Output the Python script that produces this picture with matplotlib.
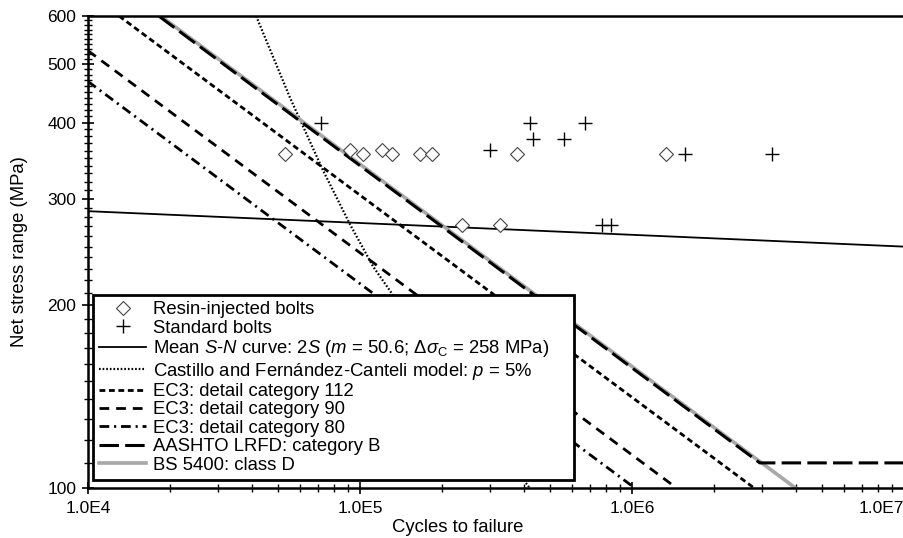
import matplotlib
matplotlib.use("Agg")
import matplotlib.pyplot as plt
from matplotlib.ticker import FixedLocator, MultipleLocator, NullFormatter, FixedFormatter

plt.rcParams['font.family'] = ['Liberation Sans', 'DejaVu Sans']
plt.rcParams['mathtext.fontset'] = 'custom'
plt.rcParams['mathtext.rm'] = 'Liberation Sans'
plt.rcParams['mathtext.it'] = 'Liberation Sans:italic'
plt.rcParams['lines.scale_dashes'] = False

# test results (cycles, net stress range in MPa)
resin_N = [53000, 91900, 102800, 120800, 131500, 166200, 184400, 236500, 327100, 376800, 1330000]
resin_S = [355, 361, 355, 361, 355, 355, 355, 271, 271, 355, 355]
std_N = [71900, 300600, 421700, 431500, 562300, 671900, 773500, 835000, 1566000, 3280000]
std_S = [400, 361, 400, 376, 376, 400, 271, 271, 355, 355]

# S-N curves
mean_N = [1e4, 1e7]
mean_S = [286, 250]
castillo_N = [41500, 55300, 73100, 91900, 111600, 132200, 420000]
castillo_S = [600, 440, 334, 272, 232, 208, 100]
ec3_112_N = [13000, 2810000]
ec3_112_S = [600, 100]
ec3_90_N = [1e4, 1458000]
ec3_90_S = [526, 100]
ec3_80_N = [1e4, 1024000]
ec3_80_S = [468, 100]
aashto_N = [18200, 2950000, 1e7]
aashto_S = [600, 110, 110]
bs_N = [18500, 3990000]
bs_S = [600, 100]

x_ticks = [1e4, 1e5, 1e6, 1e7]
x_labels = ['1.0E4', '1.0E5', '1.0E6', '1.0E7']
y_ticks = [100, 200, 300, 400, 500, 600]

fig = plt.figure(figsize=(9.04, 5.38), dpi=100)
ax = fig.add_axes([88/904, 50/538, 816/904, 472/538])
ax.set_xscale('log')
ax.set_yscale('log')

h_resin, = ax.plot(resin_N, resin_S, ls='none', marker='D', ms=7, mfc='white',
                   mec='#444444', mew=0.8, zorder=5)
h_std, = ax.plot(std_N, std_S, ls='none', marker='+', ms=9.5, mec='black', mew=1.0, zorder=5)
h_mean, = ax.plot(mean_N, mean_S, color='black', lw=1.3)
h_cas, = ax.plot(castillo_N, castillo_S, color='black', lw=1.6, dashes=(1.2, 1.4))
h_112, = ax.plot(ec3_112_N, ec3_112_S, color='black', lw=2.0, dashes=(4.2, 2.6))
h_90, = ax.plot(ec3_90_N, ec3_90_S, color='black', lw=2.0, dashes=(7, 5))
h_80, = ax.plot(ec3_80_N, ec3_80_S, color='black', lw=2.0, dashes=(7, 3.5, 1.5, 3.5))
h_bs, = ax.plot(bs_N, bs_S, color='#a8a8a8', lw=2.6, zorder=2)
h_aas, = ax.plot(aashto_N, aashto_S, color='black', lw=2.2, dashes=(14, 4.5), zorder=3)

ax.set_xlim(1e4, 1e7)
ax.set_ylim(100, 600)

ax.xaxis.set_major_locator(FixedLocator(x_ticks))
ax.xaxis.set_major_formatter(FixedFormatter(x_labels))
ax.yaxis.set_major_locator(FixedLocator(y_ticks))
ax.yaxis.set_major_formatter(FixedFormatter([str(v) for v in y_ticks]))
ax.yaxis.set_minor_locator(MultipleLocator(10))
ax.yaxis.set_minor_formatter(NullFormatter())
ax.tick_params(which='major', direction='inout', length=9, width=1.2, labelsize=12.5)
ax.tick_params(axis='x', which='major', pad=5)
ax.tick_params(axis='y', which='major', pad=4)
ax.tick_params(which='minor', direction='inout', length=6, width=1.0)

# last x label sits inside the figure edge, as in the original
fig.canvas.draw()
ax.get_xticklabels()[-1].set_horizontalalignment('right')

for side in ['left', 'bottom', 'top']:
    ax.spines[side].set_linewidth(1.8)
ax.spines['right'].set_visible(False)

ax.set_ylabel('Net stress range (MPa)', fontsize=13.3)
ax.yaxis.set_label_coords(-0.073, 0.5)
ax.set_xlabel('Cycles to failure', fontsize=13.3)
ax.xaxis.set_label_coords(0.453, -0.066)

handles = [h_resin, h_std, h_mean, h_cas, h_112, h_90, h_80, h_aas, h_bs]
labels = ['Resin-injected bolts',
          'Standard bolts',
          r'Mean $S$-$N$ curve: 2$S$ ($m$ = 50.6; $\Delta\sigma_\mathrm{C}$ = 258 MPa)',
          'Castillo and Fernández-Canteli model: $p$ = 5%',
          'EC3: detail category 112',
          'EC3: detail category 90',
          'EC3: detail category 80',
          'AASHTO LRFD: category B',
          'BS 5400: class D']
leg = ax.legend(handles, labels, loc='lower left', bbox_to_anchor=(0.006, 0.017, 0.59, 0.4),
                mode='expand', fontsize=13.3, handlelength=2.55, handletextpad=0.33,
                labelspacing=0.075, borderpad=0.35, borderaxespad=0, fancybox=False,
                framealpha=1, edgecolor='black')
leg.get_frame().set_linewidth(2)
leg.set_zorder(10)

fig.savefig('out.png', dpi=100)
